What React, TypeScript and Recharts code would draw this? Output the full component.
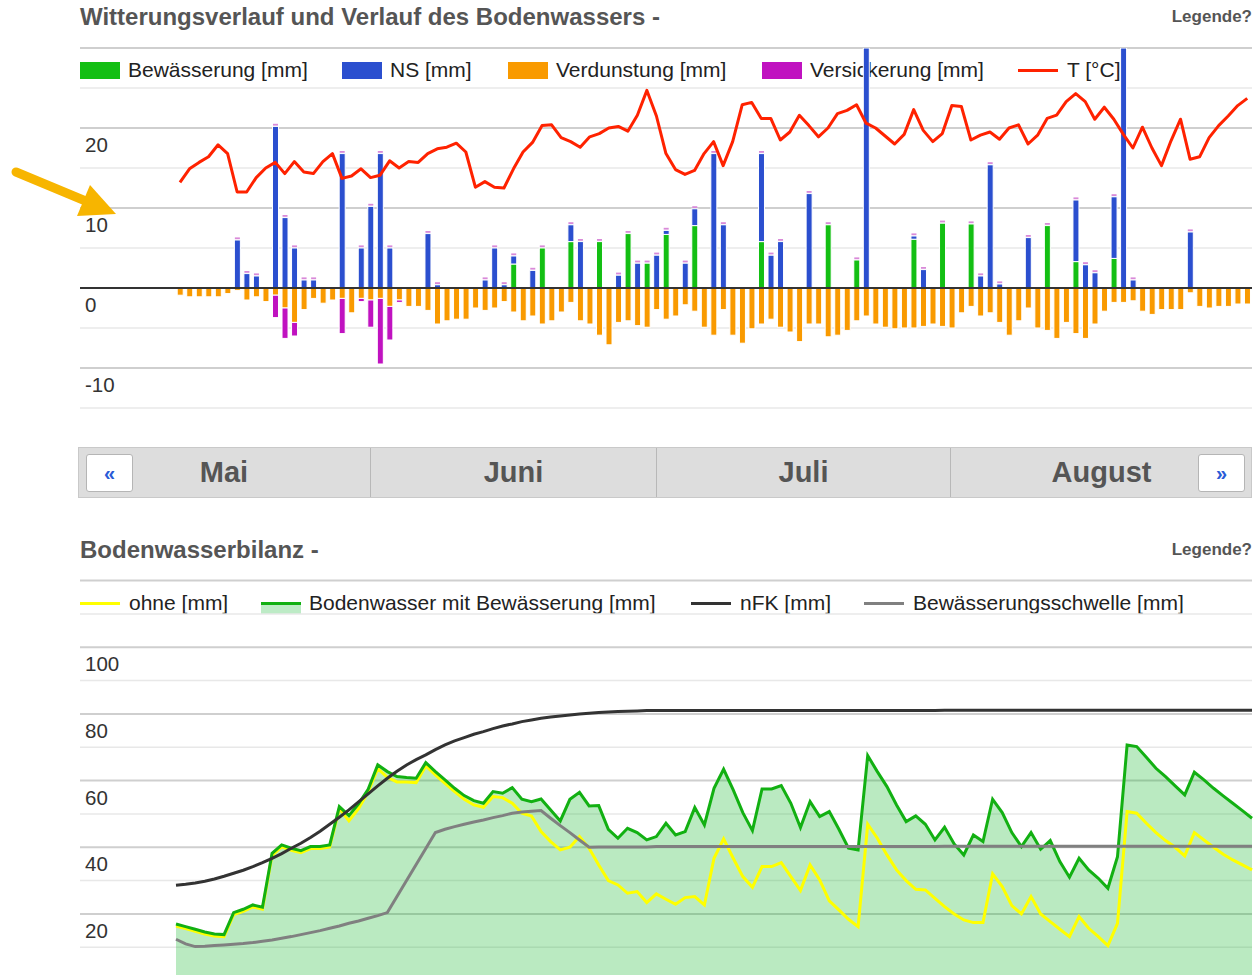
import {
  ComposedChart, Bar, Line, Area, XAxis, YAxis, CartesianGrid, ReferenceLine,
} from 'recharts'

const FONT = "'Liberation Sans', Arial, Helvetica, sans-serif"
const _ = null

// Tage 11.05. bis 31.08.
const tage: string[] = []
for (let d = new Date(2021, 4, 11); d.getMonth() < 8; d.setDate(d.getDate() + 1)) {
  tage.push(`${d.getDate()}.${d.getMonth() + 1}.`)
}

// Witterung [mm] / [°C]
const bewaesserung = [
  _, _, _, _, _, _, _, _, _, _,
  _, _, _, _, _, _, _, _, _, _,
  _, _, _, _, _, _, _, _, _, _,
  _, _, _, _, _, 3.0, _, _, 5.0, _,
  _, 5.8, _, _, 5.8, _, _, 6.8, _, 3.1,
  _, 6.7, _, _, 7.8, _, _, _, _, _,
  _, 5.8, _, _, _, _, _, _, 7.9, _,
  _, 3.5, _, _, _, _, _, 6.1, _, _,
  8.1, _, _, 8.0, _, _, _, _, _, _,
  _, 7.8, _, _, 3.3, _, _, _, 3.7, _,
  _, _, _, _, _, _, _, _, _, _,
  _, _, _,
]
const niederschlag = [
  _, _, _, _, _, _, 6.0, 1.8, 1.5, _,
  20.2, 8.8, 5.0, 1.0, 1.0, _, _, 16.8, _, 5.0,
  10.2, 16.8, 5.0, _, _, _, 6.8, 0.4, _, _,
  _, _, 1.0, 5.0, 0.4, 1.0, _, 2.2, _, _,
  _, 2.1, 5.8, _, _, _, 1.6, _, 3.1, _,
  4.1, 0.5, _, 3.1, 2.1, _, 16.8, 7.9, _, _,
  _, 11.0, 4.1, 5.8, _, _, 11.8, _, _, _,
  _, _, 38, _, _, _, _, 0.4, 2.3, _,
  _, _, _, _, 1.5, 15.4, 0.5, _, _, 6.3,
  _, _, _, _, 7.7, 2.9, 1.9, _, 7.7, 38,
  1.0, _, _, _, _, _, 7.0, _, _, _,
  _, _, _,
]
const verdunstung = [
  -0.9, -1.1, -1.1, -1.1, -1.1, -0.7, -0.3, -1.5, -1.1, -1.7,
  -0.9, -2.5, -4.3, -2.7, -1.3, -1.9, -1.5, -1.3, -3.1, -1.3,
  -1.5, -1.3, -2.3, -1.5, -2.3, -2.3, -2.8, -4.5, -4.1, -3.9,
  -3.9, -2.5, -2.8, -2.5, -1.7, -3.0, -4.1, -3.5, -4.5, -4.1,
  -3.0, -1.8, -4.1, -4.5, -5.9, -7.1, -4.3, -4.1, -4.7, -4.9,
  -2.7, -3.9, -3.5, -2.1, -2.9, -4.9, -5.9, -2.7, -5.9, -6.9,
  -5.1, -4.5, -3.9, -4.9, -5.5, -6.7, -4.5, -4.5, -6.1, -5.9,
  -5.3, -4.1, -3.5, -4.5, -4.9, -5.1, -5.0, -5.0, -4.8, -4.5,
  -4.8, -5.0, -3.1, -2.3, -3.5, -3.1, -4.3, -5.9, -4.1, -2.5,
  -5.0, -5.3, -6.3, -4.3, -5.7, -6.3, -4.5, -2.9, -1.8, -1.8,
  -1.6, -2.9, -3.3, -2.7, -2.7, -2.7, -0.6, -2.3, -2.5, -2.3,
  -2.3, -2.0, -2.0,
]
const versickerung = [
  _, _, _, _, _, _, _, _, _, _,
  -2.8, -3.8, -1.7, _, _, _, _, -4.4, _, -0.4,
  -3.4, -8.2, -4.2, -0.3, _, _, _, _, _, _,
]
const temperatur = [
  13.2, 14.9, 15.7, 16.4, 17.9, 16.8, 12.0, 12.0, 13.8, 15.0,
  15.7, 14.3, 15.8, 14.5, 14.3, 15.8, 16.8, 13.7, 14.0, 14.9,
  13.8, 14.1, 15.9, 15.0, 15.8, 15.7, 16.8, 17.4, 17.6, 18.1,
  17.0, 12.6, 13.3, 12.6, 12.5, 14.9, 17.0, 18.2, 20.3, 20.4,
  18.8, 18.3, 17.6, 18.9, 19.3, 20.0, 20.2, 19.6, 21.6, 24.7,
  21.5, 16.8, 14.8, 14.2, 14.7, 16.8, 18.3, 15.3, 18.3, 22.9,
  23.2, 21.2, 21.2, 18.5, 19.5, 21.6, 20.3, 18.9, 20.0, 21.8,
  22.2, 22.9, 20.6, 20.0, 19.0, 18.0, 19.2, 22.3, 19.7, 18.3,
  19.3, 22.8, 22.7, 18.5, 19.1, 19.5, 18.6, 20.0, 20.4, 18.0,
  19.1, 21.2, 21.6, 23.3, 24.3, 23.3, 21.1, 22.6, 21.1, 19.2,
  17.5, 20.1, 17.5, 15.3, 18.4, 21.1, 16.1, 16.4, 18.8, 20.3,
  21.5, 22.8, 23.7,
]

// Bodenwasser [mm]
const ohne = [
  16.4, 15.6, 14.8, 14.0, 13.4, 13.2, 19.8, 20.8, 22.1, 21.4,
  37.6, 40.1, 39.1, 38.4, 39.6, 39.6, 40.1, 51.6, 47.9, 51.6,
  56.6, 63.6, 61.0, 59.6, 59.6, 59.4, 64.4, 61.7, 59.2, 56.7,
  54.4, 52.7, 52.0, 55.2, 54.9, 53.2, 50.2, 49.4, 44.7, 41.7,
  39.2, 40.0, 43.2, 39.7, 34.7, 30.0, 28.7, 26.2, 26.7, 23.4,
  26.0, 24.4, 22.9, 24.9, 25.2, 22.7, 36.7, 42.5, 36.7, 31.2,
  28.0, 34.2, 34.2, 35.4, 31.2, 27.0, 34.7, 30.2, 23.9, 21.2,
  18.4, 16.2, 46.9, 42.7, 37.7, 33.2, 30.0, 27.4, 27.2, 24.7,
  22.2, 20.0, 18.2, 17.4, 17.4, 32.0, 28.2, 22.5, 20.0, 25.2,
  20.0, 17.7, 15.4, 13.2, 19.2, 15.7, 13.2, 10.5, 17.2, 50.7,
  50.2, 47.2, 44.4, 42.0, 40.0, 37.4, 44.4, 42.2, 40.0, 37.9,
  36.2, 34.7, 33.2,
]
const mitBewaesserung = [
  17.0, 16.2, 15.4, 14.6, 14.0, 13.8, 20.4, 21.4, 22.7, 22.0,
  38.2, 40.7, 39.7, 39.0, 40.2, 40.2, 40.7, 52.2, 49.5, 53.0,
  57.4, 64.7, 62.7, 61.2, 60.9, 60.7, 65.4, 62.7, 60.2, 57.7,
  55.5, 54.0, 53.2, 56.7, 56.2, 57.9, 54.4, 53.7, 54.5, 51.2,
  47.9, 54.4, 56.5, 52.4, 52.5, 45.4, 42.7, 45.7, 44.4, 42.2,
  43.2, 47.2, 43.7, 44.7, 51.9, 46.7, 57.7, 63.4, 57.2, 50.4,
  45.0, 57.5, 57.5, 58.5, 53.2, 45.9, 53.7, 49.2, 50.7, 45.4,
  39.7, 39.2, 67.5, 62.7, 58.2, 52.7, 47.7, 49.4, 46.9, 42.2,
  46.0, 41.0, 37.7, 43.7, 41.7, 54.4, 50.4, 44.4, 40.2, 44.4,
  39.4, 42.0, 35.7, 31.0, 36.7, 33.2, 30.7, 27.7, 37.2, 70.7,
  70.2, 67.0, 63.7, 61.2, 58.4, 55.7, 62.5, 60.2, 57.7, 55.4,
  53.2, 51.0, 48.7,
]
const nfk = [
  28.6, 28.9, 29.3, 29.8, 30.5, 31.3, 32.2, 33.1, 34.2, 35.4,
  36.7, 38.1, 39.7, 41.2, 42.9, 44.8, 46.9, 49.0, 51.2, 53.6,
  56.0, 58.4, 60.7, 62.8, 64.7, 66.3, 67.7, 69.3, 70.7, 71.9,
  72.9, 73.9, 74.7, 75.6, 76.4, 77.0, 77.7, 78.2, 78.7, 79.1,
  79.4, 79.7, 80.0, 80.2, 80.4, 80.6, 80.7, 80.8, 80.9, 81.0,
  81.0, 81.0, 81.0, 81.0, 81.0, 81.0, 81.0, 81.0, 81.0, 81.0,
  81.0, 81.0, 81.0, 81.0, 81.0, 81.0, 81.0, 81.0, 81.0, 81.0,
  81.0, 81.0, 81.0, 81.0, 81.0, 81.0, 81.0, 81.0, 81.0, 81.0,
  81.1, 81.1, 81.1, 81.1, 81.1, 81.1, 81.1, 81.1, 81.1, 81.1,
  81.1, 81.1, 81.1, 81.1, 81.1, 81.1, 81.1, 81.1, 81.1, 81.1,
  81.1, 81.1, 81.1, 81.1, 81.1, 81.1, 81.1, 81.1, 81.1, 81.1,
  81.1, 81.1, 81.1,
]
const schwelle = [
  12.4, 11.0, 10.2, 10.3, 10.5, 10.7, 10.9, 11.1, 11.4, 11.8,
  12.2, 12.7, 13.2, 13.8, 14.4, 15.0, 15.7, 16.4, 17.2, 17.9,
  18.7, 19.5, 20.4, 25.2, 30.0, 34.8, 39.6, 44.4, 45.4, 46.2,
  46.9, 47.6, 48.2, 48.9, 49.5, 50.2, 50.6, 50.8, 51.0, 48.7,
  46.5, 44.4, 42.2, 40.0, 40.1, 40.1, 40.1, 40.1, 40.1, 40.1,
  40.2, 40.2, 40.2, 40.2, 40.2, 40.2, 40.2, 40.2, 40.2, 40.2,
  40.2, 40.2, 40.2, 40.2, 40.2, 40.2, 40.2, 40.2, 40.2, 40.2,
  40.2, 40.2, 40.2, 40.2, 40.2, 40.2, 40.2, 40.2, 40.2, 40.2,
  40.3, 40.3, 40.3, 40.3, 40.3, 40.3, 40.3, 40.3, 40.3, 40.3,
  40.3, 40.3, 40.3, 40.3, 40.3, 40.3, 40.3, 40.3, 40.3, 40.3,
  40.3, 40.3, 40.3, 40.3, 40.3, 40.3, 40.3, 40.3, 40.3, 40.3,
  40.3, 40.3, 40.3,
]

const wetterTicksMajor = [30, 20, 10, -10]
const wetterTicksMinor = [25, 15, 5, -5, -15]
const wetterLabels = [20, 10, 0, -10]
const bodenTicksMajor = [120, 100, 80, 60, 40, 20]
const bodenTicksMinor = [110, 90, 70, 50, 30, 10]
const bodenLabels = [100, 80, 60, 40, 20]
const monate = ['Mai', 'Juni', 'Juli', 'August']

const wetterData = tage.map((tag, i) => ({
  tag,
  bew: bewaesserung[i] ?? null,
  ns: niederschlag[i] ?? null,
  verd: verdunstung[i] ?? null,
  vers: versickerung[i] ?? null,
  t: temperatur[i],
}))
const bodenData = tage.map((tag, i) => ({
  tag,
  ohne: ohne[i],
  mit: mitBewaesserung[i],
  nfk: nfk[i],
  schwelle: schwelle[i],
}))

const legendeOben = [
  { name: 'Bewässerung [mm]', color: '#13bf13', kind: 'box', left: 80 },
  { name: 'NS [mm]', color: '#2b4fcf', kind: 'box', left: 342 },
  { name: 'Verdunstung [mm]', color: '#f99a00', kind: 'box', left: 508 },
  { name: 'Versickerung [mm]', color: '#c012c0', kind: 'box', left: 762 },
  { name: 'T [°C]', color: '#ff2200', kind: 'line', left: 1018 },
]
const legendeUnten = [
  { name: 'ohne [mm]', color: '#ffff00', kind: 'line', left: 80 },
  { name: 'Bodenwasser mit Bewässerung [mm]', color: '#12b012', kind: 'area', left: 261 },
  { name: 'nFK [mm]', color: '#333333', kind: 'line', left: 691 },
  { name: 'Bewässerungsschwelle [mm]', color: '#808080', kind: 'line', left: 864 },
]

// bar segment with white separator, optional lilac cap on the top segment
function Segment(props: any, cap: boolean) {
  const { x, y, width, height, fill } = props
  if (!height || Math.abs(height) < 0.3) return <g />
  const top = height < 0 ? y + height : y
  return (
    <g>
      <rect x={x} y={top} width={width} height={Math.abs(height)} fill={fill} stroke="#fff" strokeWidth={1} />
      {cap && <rect x={x + 0.5} y={top - 2.6} width={width - 1} height={1.8} fill="#d98ad9" />}
    </g>
  )
}

// axis label sits just below its gridline, inside the plot
function AchsenLabel({ viewBox, value }: any) {
  if (!viewBox) return null
  return (
    <text x={viewBox.x + 5} y={viewBox.y + 17} dy={7} fontSize={20.5} fill="#333" fontFamily={FONT}>
      {value}
    </text>
  )
}

function Legende({ items, top }: { items: typeof legendeOben; top: number }) {
  return (
    <>
      {items.map((it) => (
        <div key={it.name} style={{ position: 'absolute', left: it.left, top, height: 24, display: 'flex', alignItems: 'center' }}>
          {it.kind === 'box' && <div style={{ width: 40, height: 17, background: it.color }} />}
          {it.kind === 'line' && <div style={{ width: 40, height: 3, background: it.color }} />}
          {it.kind === 'area' && (
            <div style={{ width: 40, height: 12, marginTop: 10, background: '#bdebc6', borderTop: `3px solid ${it.color}`, boxSizing: 'border-box' }} />
          )}
          <span style={{ marginLeft: it.kind === 'line' ? 9 : 8, fontSize: 21, color: '#222', whiteSpace: 'nowrap' }}>{it.name}</span>
        </div>
      ))}
    </>
  )
}

function Titel({ text, top }: { text: string; top: number }) {
  return (
    <>
      <div style={{ position: 'absolute', left: 80, top, fontSize: 24, lineHeight: '28px', fontWeight: 'bold', color: '#555' }}>{text}</div>
      <div style={{ position: 'absolute', right: 8, top: top + 4, fontSize: 17, lineHeight: '20px', fontWeight: 'bold', color: '#555' }}>Legende?</div>
    </>
  )
}

export default function App() {
  const grenzen = [78, 371, 657, 951, 1252]
  return (
    <div style={{ position: 'relative', width: 1260, height: 1000, fontFamily: FONT, overflow: 'hidden' }}>
      <style>{'body{margin:0}'}</style>

      <Titel text="Witterungsverlauf und Verlauf des Bodenwassers -" top={3} />
      <Legende items={legendeOben} top={58} />

      <div style={{ position: 'absolute', left: 0, top: 0 }}>
        <ComposedChart width={1260} height={420} data={wetterData} stackOffset="sign" barSize={6}
          margin={{ top: 48, right: 8, bottom: 12, left: 80 }}>
          <CartesianGrid vertical={false} horizontalValues={wetterTicksMinor} stroke="#e8e8e8" strokeWidth={1.5} />
          <CartesianGrid vertical={false} horizontalValues={wetterTicksMajor} stroke="#cfcfcf" strokeWidth={2} />
          <XAxis dataKey="tag" type="category" scale="band" hide padding={{ left: 95.2, right: 0 }} />
          <YAxis domain={[-15, 30]} allowDataOverflow hide />
          <Bar dataKey="bew" stackId="a" fill="#13bf13" isAnimationActive={false}
            shape={(p: any) => Segment(p, p.payload.ns == null)} />
          <Bar dataKey="ns" stackId="a" fill="#2b4fcf" isAnimationActive={false}
            shape={(p: any) => Segment(p, true)} />
          <Bar dataKey="verd" stackId="a" fill="#f99a00" isAnimationActive={false}
            shape={(p: any) => Segment(p, false)} />
          <Bar dataKey="vers" stackId="a" fill="#c012c0" isAnimationActive={false}
            shape={(p: any) => Segment(p, false)} />
          <ReferenceLine y={0} stroke="#333" strokeWidth={2} />
          {wetterLabels.map((v) => (
            <ReferenceLine key={v} y={v} stroke="none" label={<AchsenLabel value={v} />} />
          ))}
          <Line dataKey="t" type="linear" stroke="#ff2200" strokeWidth={3} dot={false} strokeLinejoin="round" isAnimationActive={false} />
        </ComposedChart>
      </div>

      {/* Hinweispfeil links */}
      <svg style={{ position: 'absolute', left: 0, top: 0 }} width={130} height={240}>
        <line x1={16} y1={172} x2={88} y2={202} stroke="#f7b500" strokeWidth={9} strokeLinecap="round" />
        <polygon points="116,214 77,216 90,185" fill="#f7b500" />
      </svg>

      {/* Monatsnavigation */}
      <div style={{ position: 'absolute', left: 78, top: 447, width: 1174, height: 51, background: '#dddddd', border: '1px solid #c9c9c9', boxSizing: 'border-box' }} />
      {monate.map((m, i) => (
        <div key={m} style={{
          position: 'absolute', left: grenzen[i], top: 448, width: grenzen[i + 1] - grenzen[i], height: 49,
          borderRight: i < 3 ? '1px solid #b8b8b8' : 'none', boxSizing: 'border-box',
          display: 'flex', alignItems: 'center', justifyContent: 'center',
          fontSize: 29, fontWeight: 'bold', color: '#555',
        }}>{m}</div>
      ))}
      {[{ s: '«', left: 86 }, { s: '»', left: 1198 }].map((b) => (
        <div key={b.s} style={{
          position: 'absolute', left: b.left, top: 454, width: 47, height: 38, background: '#fff',
          border: '1px solid #b5b5b5', borderRadius: 3, boxSizing: 'border-box',
          display: 'flex', alignItems: 'center', justifyContent: 'center',
          color: '#2a5bd7', fontWeight: 'bold', fontSize: 20,
        }}>{b.s}</div>
      ))}

      <Titel text="Bodenwasserbilanz -" top={536} />
      <Legende items={legendeUnten} top={591} />

      <div style={{ position: 'absolute', left: 0, top: 560 }}>
        <ComposedChart width={1260} height={440} data={bodenData}
          margin={{ top: 20.6, right: 8, bottom: 19.4, left: 80 }}>
          <CartesianGrid vertical={false} horizontalValues={bodenTicksMinor} stroke="#e8e8e8" strokeWidth={1.5} />
          <CartesianGrid vertical={false} horizontalValues={bodenTicksMajor} stroke="#cfcfcf" strokeWidth={2} />
          <XAxis dataKey="tag" type="category" scale="point" hide padding={{ left: 96, right: 0 }} />
          <YAxis domain={[0, 120]} hide />
          <Area dataKey="mit" type="linear" stroke="none" fill="#19b832" fillOpacity={0.3} baseValue={0} isAnimationActive={false} />
          <Line dataKey="ohne" type="linear" stroke="#ffff00" strokeWidth={3} dot={false} isAnimationActive={false} />
          <Line dataKey="mit" type="linear" stroke="#12b012" strokeWidth={3} dot={false} isAnimationActive={false} />
          <Line dataKey="nfk" type="linear" stroke="#333333" strokeWidth={3} dot={false} isAnimationActive={false} />
          <Line dataKey="schwelle" type="linear" stroke="#808080" strokeWidth={3} dot={false} isAnimationActive={false} />
          {bodenLabels.map((v) => (
            <ReferenceLine key={v} y={v} stroke="none" label={<AchsenLabel value={v} />} />
          ))}
        </ComposedChart>
      </div>
    </div>
  )
}
